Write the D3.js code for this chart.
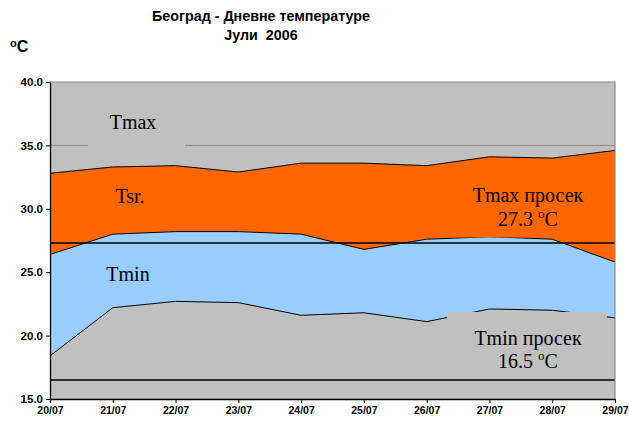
<!DOCTYPE html>
<html>
<head>
<meta charset="utf-8">
<script src="https://cdn.jsdelivr.net/npm/d3@7"></script>
<style>
  body { margin: 0; background: #fff; }
  svg text { font-family: Arial, "Liberation Sans", sans-serif; white-space: pre; }
  .lbl { font-family: "Times New Roman", "Liberation Serif", serif !important; font-size: 20px; fill: #000; }
</style>
</head>
<body>
<svg id="chart" width="629" height="421"></svg>
<script>
// data
const days = ["20/07", "21/07", "22/07", "23/07", "24/07", "25/07", "26/07", "27/07", "28/07", "29/07"];
const tmax = [32.8, 33.3, 33.4, 32.9, 33.6, 33.6, 33.4, 34.1, 34.0, 34.6];
const tsr  = [26.4, 28.0, 28.2, 28.2, 28.0, 26.8, 27.6, 27.8, 27.6, 25.8];
const tmin = [18.4, 22.2, 22.7, 22.6, 21.6, 21.8, 21.1, 22.1, 22.0, 21.4];
const yTicks = [15, 20, 25, 30, 35, 40];
const tmaxAvg = 27.3;
const tminAvg = 16.5;

const svg = d3.select("#chart");
const plotL = 50, plotR = 615, plotT = 82, plotB = 399;

const x = d3.scalePoint().domain(days).range([plotL, plotR]);
const y = d3.scaleLinear().domain([15, 40]).range([plotB, plotT]);

const rows = days.map((d, i) => ({ day: d, tmax: tmax[i], tsr: tsr[i], tmin: tmin[i] }));

// plot background
svg.append("rect")
  .attr("x", plotL).attr("y", plotT)
  .attr("width", plotR - plotL).attr("height", plotB - plotT)
  .attr("fill", "#C0C0C0");

// gridline at 35 (others are under the areas)
svg.append("line")
  .attr("x1", plotL).attr("x2", plotR)
  .attr("y1", y(35)).attr("y2", y(35))
  .attr("stroke", "#8c8c8c").attr("stroke-width", 1);

// stacked bands
const band = (lo, hi, color) => {
  svg.append("path")
    .datum(rows)
    .attr("fill", color)
    .attr("d", d3.area()
      .x(d => x(d.day))
      .y0(d => y(lo(d)))
      .y1(d => y(hi(d))));
};
band(d => d.tsr, d => d.tmax, "#FF6600");
band(d => d.tmin, d => d.tsr, "#99CCFF");
band(d => 15, d => d.tmin, "#C0C0C0");

// outlines
["tmax", "tsr", "tmin"].forEach(k => {
  svg.append("path")
    .datum(rows)
    .attr("fill", "none")
    .attr("stroke", "#000")
    .attr("stroke-width", 1)
    .attr("d", d3.line().x(d => x(d.day)).y(d => y(d[k])));
});

// average lines
[tmaxAvg, tminAvg].forEach(v => {
  svg.append("line")
    .attr("x1", plotL).attr("x2", plotR)
    .attr("y1", y(v)).attr("y2", y(v))
    .attr("stroke", "#000").attr("stroke-width", 1.5);
});

// frame: top and right in gray
svg.append("path")
  .attr("d", `M${plotL},${plotT}H${plotR}V${plotB}`)
  .attr("fill", "none").attr("stroke", "#8c8c8c").attr("stroke-width", 1.2);

// label boxes
svg.append("rect").attr("x", 88).attr("y", 138).attr("width", 97).attr("height", 14).attr("fill", "#C0C0C0");
svg.append("rect").attr("x", 447).attr("y", 180).attr("width", 160).attr("height", 57.5).attr("fill", "#FF6600");
svg.append("rect").attr("x", 447).attr("y", 312).attr("width", 160).attr("height", 67).attr("fill", "#C0C0C0");

// axes
const yAxis = svg.append("g")
  .attr("transform", `translate(${plotL},0)`)
  .call(d3.axisLeft(y).tickValues(yTicks).tickFormat(d3.format(".1f")).tickSize(4).tickSizeOuter(0));
yAxis.select(".domain").attr("stroke", "#000").attr("stroke-width", 1.3);
yAxis.selectAll(".tick line").attr("stroke", "#000");
yAxis.selectAll("text").attr("font-size", 11.5).attr("font-weight", "bold").attr("fill", "#000")
  .attr("font-family", "Arial, 'Liberation Sans', sans-serif").attr("x", -7);

const xAxis = svg.append("g")
  .attr("transform", `translate(0,${plotB})`)
  .call(d3.axisBottom(x).tickSize(4).tickSizeOuter(0));
xAxis.select(".domain").attr("stroke", "#000").attr("stroke-width", 1.3);
xAxis.selectAll(".tick line").attr("stroke", "#000");
xAxis.selectAll("text").attr("font-size", 10.5).attr("font-weight", "bold").attr("fill", "#000")
  .attr("font-family", "Arial, 'Liberation Sans', sans-serif").attr("y", 8);

// title
const title = svg.append("text").attr("text-anchor", "middle")
  .attr("font-weight", "bold").attr("font-size", 14.3);
title.append("tspan").attr("x", 261).attr("y", 21).text("Београд - Дневне температуре");
title.append("tspan").attr("x", 261).attr("y", 40).text("Јули  2006");

// unit
const unit = svg.append("text").attr("x", 10).attr("y", 52)
  .attr("font-weight", "bold").attr("font-size", 16);
unit.append("tspan").attr("font-size", 11).attr("dy", -5).text("o");
unit.append("tspan").attr("dy", 5).text("C");

// series labels
const label = (tx, ty, s) => svg.append("text").attr("class", "lbl")
  .attr("x", tx).attr("y", ty).attr("text-anchor", "middle").text(s);
label(133, 129, "Tmax");
label(130, 203, "Tsr.");
label(128, 281, "Tmin");
label(528, 202, "Tmax просек");
label(528, 345, "Tmin просек");

const avgLabel = (ty, v) => {
  const t = svg.append("text").attr("class", "lbl").attr("x", 528).attr("y", ty).attr("text-anchor", "middle");
  t.append("tspan").text(v.toFixed(1) + " ");
  t.append("tspan").attr("font-size", 13).attr("dy", -8).text("o");
  t.append("tspan").attr("dy", 8).text("C");
};
avgLabel(226, tmaxAvg);
avgLabel(368, tminAvg);
</script>
</body>
</html>
